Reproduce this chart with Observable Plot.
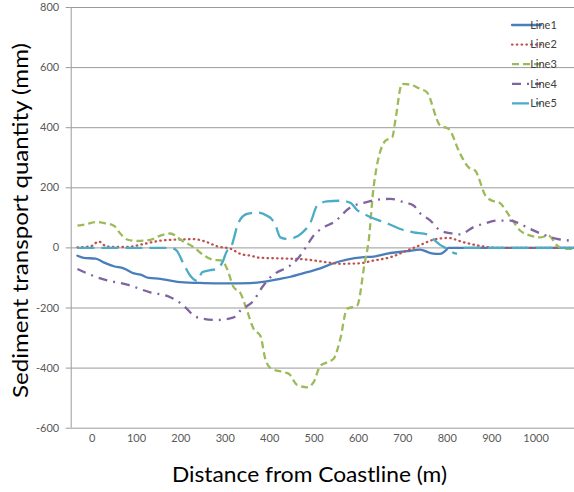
<!DOCTYPE html>
<html><head><meta charset="utf-8">
<script src="https://cdn.jsdelivr.net/npm/d3@7"></script>
<script src="https://cdn.jsdelivr.net/npm/@observablehq/plot@0.6"></script>
<style>html,body{margin:0;padding:0;background:#fff;} #chart{position:relative;width:574px;height:492px;}</style>
</head><body><div id="chart"></div>
<script>
// ---- data ----
const seriesNames = ["Line1", "Line2", "Line3", "Line4", "Line5"];
const line1 = [[-33,-26],[-19,-33],[8,-36],[26,-48],[49,-61],[71,-68],[94,-85],[109,-89],[128,-100],[154,-103],[177,-109],[199,-114],[252,-117],[304,-118],[357,-117],[402,-109],[424,-103],[447,-96],[469,-87],[514,-68],[544,-51],[574,-39],[612,-31],[634,-29],[672,-17],[709,-11],[739,-6],[762,-17],[784,-20],[796,-9],[803,0],[1086,0]];
const line2 = [[-33,2],[-4,5],[15,21],[34,4],[79,3],[116,13],[154,24],[199,28],[229,29],[259,19],[282,5],[312,-3],[334,-20],[357,-26],[379,-33],[424,-35],[484,-39],[529,-48],[559,-53],[604,-51],[634,-42],[672,-31],[709,-9],[732,5],[777,30],[802,33],[836,19],[881,5],[911,0],[1086,0]];
const line3 = [[-33,74],[-15,78],[8,86],[30,82],[49,74],[64,47],[79,28],[101,23],[131,27],[154,41],[176,48],[188,41],[199,28],[229,2],[251,-24],[274,-40],[293,-42],[304,-70],[319,-131],[334,-150],[349,-209],[364,-270],[379,-292],[390,-369],[402,-400],[432,-414],[443,-419],[462,-456],[484,-464],[499,-447],[514,-392],[529,-381],[544,-369],[559,-303],[574,-203],[597,-192],[614,-50],[623,24],[634,202],[661,357],[676,368],[683,424],[698,546],[717,543],[739,529],[754,518],[784,407],[803,396],[829,313],[848,268],[863,257],[886,174],[901,157],[916,152],[942,102],[964,58],[987,41],[1009,35],[1028,41],[1047,8],[1062,-3],[1086,-3]];
const line4 = [[-33,-70],[-4,-89],[26,-105],[79,-122],[131,-148],[176,-164],[206,-192],[229,-225],[251,-236],[281,-240],[319,-231],[334,-209],[364,-175],[383,-131],[398,-103],[417,-81],[440,-65],[466,-31],[484,8],[499,41],[522,69],[544,85],[582,135],[612,150],[642,160],[672,163],[702,152],[724,141],[739,115],[762,91],[784,58],[807,49],[829,45],[859,69],[886,82],[912,91],[942,91],[964,80],[987,63],[1017,44],[1047,30],[1077,24],[1086,22]];
const line5 = [[-33,0],[177,0],[190,-8],[205,-50],[220,-90],[237,-110],[248,-81],[266,-74],[281,-70],[293,-50],[304,-10],[312,-2],[319,30],[327,74],[334,95],[349,113],[372,118],[394,107],[405,95],[413,75],[424,35],[439,30],[454,33],[473,50],[492,85],[507,141],[529,155],[559,157],[582,150],[597,126],[612,113],[627,102],[649,90],[672,77],[694,63],[724,52],[755,45],[768,30],[784,10],[800,-3],[811,-14],[822,-20],[830,null],[837,0],[1086,0]];
const seriesData = [line1, line2, line3, line4, line5];
const xTicks = [0,100,200,300,400,500,600,700,800,900,1000];
const yTicks = [-600,-400,-200,0,200,400,600,800];
const xDomain = [-47, 1086.5];
const yDomain = [-600, 800];
const xTitle = "Distance from Coastline (m)";
const yTitle = "Sediment transport quantity (mm)";

// ---- styles ----
const seriesColors = ["#4A7EBB", "#C0504D", "#9BBB59", "#8064A2", "#4BACC6"];
const seriesDash = [null, "0.5,4.3", "7,4", "9,6,2,6", "17,7"];
const seriesCap = ["round", "round", "butt", "butt", "butt"];
const lineWidth = 2.3;

const lineMarks = seriesData.map((d, i) => Plot.line(d, {
  x: p => p[0], y: p => p[1],
  stroke: seriesColors[i], strokeWidth: lineWidth,
  strokeDasharray: seriesDash[i] || undefined,
  strokeLinecap: seriesCap[i], strokeLinejoin: "round",
  curve: "monotone-x"
}));

const svg = Plot.plot({
  width: 574, height: 492,
  marginLeft: 70.7, marginRight: 0, marginTop: 7, marginBottom: 64.3,
  x: {domain: xDomain},
  y: {domain: yDomain},
  style: {fontFamily: "Lato, 'Liberation Sans', sans-serif", fontSize: "11px", color: "#595959", background: "#fff", overflow: "visible"},
  marks: [
    Plot.gridY(yTicks, {stroke: "#9a9a9a", strokeOpacity: 1, strokeWidth: 1}),
    Plot.ruleX([xDomain[0]], {stroke: "#9a9a9a", strokeWidth: 1}),
    Plot.axisY(yTicks, {tickSize: 5, tickPadding: 7, stroke: "#9a9a9a", fill: "#595959", label: null, tickFormat: d => String(d)}),
    Plot.axisX(xTicks, {tickSize: 0, tickPadding: 6, fill: "#595959", label: null, tickFormat: d => String(d)}),
    ...lineMarks
  ]
});
document.getElementById("chart").appendChild(svg);

// ---- titles ----
const s = d3.select(svg);
s.append("text")
  .attr("transform", "translate(28,220.5) rotate(-90)")
  .attr("text-anchor", "middle")
  .attr("font-family", "Lato, sans-serif").attr("font-size", 20.5).attr("fill", "#000")
  .attr("textLength", 355).attr("lengthAdjust", "spacingAndGlyphs")
  .text(yTitle);
s.append("text")
  .attr("x", 309.5).attr("y", 481.7)
  .attr("text-anchor", "middle")
  .attr("font-family", "Lato, sans-serif").attr("font-size", 20.5).attr("fill", "#000")
  .attr("textLength", 275).attr("lengthAdjust", "spacingAndGlyphs")
  .text(xTitle);

// ---- legend ----
const lg = s.append("g");
seriesNames.forEach((name, i) => {
  const yy = 25 + i * 19.6;
  lg.append("line").attr("x1", 512).attr("x2", 541).attr("y1", yy).attr("y2", yy)
    .attr("stroke", seriesColors[i]).attr("stroke-width", lineWidth)
    .attr("stroke-dasharray", seriesDash[i]).attr("stroke-linecap", seriesCap[i]);
  lg.append("text").attr("x", 543.5).attr("y", yy).attr("dy", "0.35em")
    .attr("font-family", "Lato, sans-serif").attr("font-size", 11).attr("fill", "#404040")
    .text(name);
});
</script>
</body></html>
